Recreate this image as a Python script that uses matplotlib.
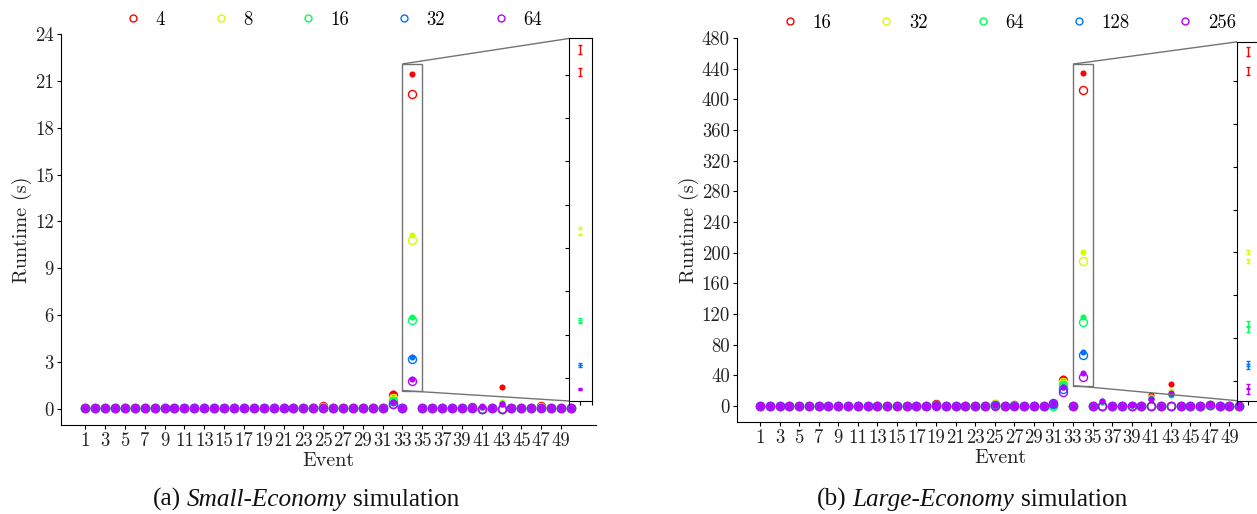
import numpy as np
import matplotlib
matplotlib.use('Agg')
import matplotlib.pyplot as plt
from matplotlib.lines import Line2D
from mpl_toolkits.axes_grid1.inset_locator import mark_inset

plt.rcParams['font.family'] = 'cmr10'
plt.rcParams['axes.unicode_minus'] = False
plt.rcParams['axes.formatter.use_mathtext'] = True

events = list(range(1, 51))

# ---- Small-Economy (a): runtime per event, open = mean, filled = second run
small_labels = ['4', '8', '16', '32', '64']
small_open = [
    [0.02, 0.02, 0.02, 0.02, 0.02, 0.02, 0.02, 0.02, 0.05, 0.02,
     0.02, 0.02, 0.02, 0.02, 0.02, 0.02, 0.02, 0.02, 0.04, 0.05,
     0.02, 0.02, 0.02, 0.02, 0.20, 0.02, 0.02, 0.02, 0.02, 0.02,
     0.02, 0.90, 0.02, 20.17, 0.02, 0.03, 0.02, 0.02, 0.03, 0.08,
     0.00, 0.02, 0.00, 0.02, 0.02, 0.02, 0.15, 0.02, 0.02, 0.02],
    [0.02, 0.02, 0.02, 0.02, 0.02, 0.02, 0.02, 0.02, 0.02, 0.02,
     0.02, 0.02, 0.02, 0.02, 0.02, 0.02, 0.02, 0.02, 0.03, 0.02,
     0.02, 0.02, 0.02, 0.02, 0.12, 0.02, 0.02, 0.02, 0.02, 0.02,
     0.02, 0.65, 0.02, 10.78, 0.02, 0.03, 0.02, 0.02, 0.02, 0.03,
     0.00, 0.02, 0.00, 0.02, 0.02, 0.02, 0.08, 0.02, 0.02, 0.02],
    [0.02, 0.02, 0.02, 0.02, 0.02, 0.02, 0.02, 0.02, 0.02, 0.02,
     0.02, 0.02, 0.02, 0.02, 0.02, 0.02, 0.02, 0.02, 0.02, 0.02,
     0.02, 0.02, 0.02, 0.02, 0.06, 0.02, 0.02, 0.02, 0.02, 0.02,
     0.02, 0.50, 0.02, 5.70, 0.02, 0.02, 0.02, 0.02, 0.02, 0.02,
     0.00, 0.02, 0.00, 0.02, 0.02, 0.02, 0.05, 0.02, 0.02, 0.02],
    [0.02, 0.02, 0.02, 0.02, 0.02, 0.02, 0.02, 0.02, 0.02, 0.02,
     0.02, 0.02, 0.02, 0.02, 0.02, 0.02, 0.02, 0.02, 0.02, 0.02,
     0.02, 0.02, 0.02, 0.02, 0.03, 0.02, 0.02, 0.02, 0.02, 0.02,
     0.02, 0.30, 0.02, 3.18, 0.02, 0.02, 0.02, 0.02, 0.02, 0.02,
     0.00, 0.02, 0.00, 0.02, 0.02, 0.02, 0.03, 0.02, 0.02, 0.02],
    [0.02, 0.02, 0.02, 0.02, 0.02, 0.02, 0.02, 0.02, 0.02, 0.02,
     0.02, 0.02, 0.02, 0.02, 0.02, 0.02, 0.02, 0.02, 0.02, 0.02,
     0.02, 0.02, 0.02, 0.02, 0.02, 0.02, 0.02, 0.02, 0.02, 0.02,
     0.02, 0.28, 0.02, 1.80, 0.02, 0.02, 0.02, 0.02, 0.02, 0.02,
     0.00, 0.02, 0.00, 0.02, 0.02, 0.02, 0.02, 0.02, 0.02, 0.02],
]
small_filled = [
    [0.02, 0.02, 0.02, 0.02, 0.02, 0.02, 0.02, 0.02, 0.10, 0.02,
     0.02, 0.02, 0.02, 0.02, 0.02, 0.02, 0.02, 0.02, 0.05, 0.06,
     0.02, 0.02, 0.02, 0.02, 0.15, 0.02, 0.02, 0.02, 0.02, 0.02,
     0.02, 1.00, 0.02, 21.46, 0.02, 0.03, 0.02, 0.02, 0.04, 0.10,
     0.12, 0.02, 1.37, 0.02, 0.02, 0.02, 0.20, 0.02, 0.02, 0.02],
    [0.02, 0.02, 0.02, 0.02, 0.02, 0.02, 0.02, 0.02, 0.02, 0.02,
     0.02, 0.02, 0.02, 0.02, 0.02, 0.02, 0.02, 0.02, 0.03, 0.02,
     0.02, 0.02, 0.02, 0.02, 0.10, 0.02, 0.02, 0.02, 0.02, 0.02,
     0.02, 0.70, 0.02, 11.13, 0.02, 0.06, 0.02, 0.02, 0.02, 0.03,
     0.10, 0.02, 0.45, 0.02, 0.02, 0.02, 0.08, 0.02, 0.02, 0.02],
    [0.02, 0.02, 0.02, 0.02, 0.02, 0.02, 0.02, 0.02, 0.02, 0.02,
     0.02, 0.02, 0.02, 0.02, 0.02, 0.02, 0.02, 0.02, 0.02, 0.02,
     0.02, 0.02, 0.02, 0.02, 0.05, 0.02, 0.02, 0.02, 0.02, 0.02,
     0.02, 0.55, 0.02, 5.88, 0.02, 0.03, 0.02, 0.02, 0.02, 0.02,
     0.10, 0.02, 0.35, 0.02, 0.02, 0.02, 0.05, 0.02, 0.02, 0.02],
    [0.02, 0.02, 0.02, 0.02, 0.02, 0.02, 0.02, 0.02, 0.02, 0.02,
     0.02, 0.02, 0.02, 0.02, 0.02, 0.02, 0.02, 0.02, 0.02, 0.02,
     0.02, 0.02, 0.02, 0.02, 0.03, 0.02, 0.02, 0.02, 0.02, 0.02,
     0.02, 0.38, 0.02, 3.30, 0.02, 0.02, 0.02, 0.02, 0.02, 0.02,
     0.12, 0.02, 0.30, 0.02, 0.02, 0.02, 0.03, 0.02, 0.02, 0.02],
    [0.02, 0.02, 0.02, 0.02, 0.02, 0.02, 0.02, 0.02, 0.02, 0.02,
     0.02, 0.02, 0.02, 0.02, 0.02, 0.02, 0.02, 0.02, 0.02, 0.02,
     0.02, 0.02, 0.02, 0.02, 0.02, 0.02, 0.02, 0.02, 0.02, 0.02,
     0.02, 0.42, 0.02, 1.91, 0.02, 0.02, 0.02, 0.02, 0.02, 0.02,
     0.17, 0.02, 0.30, 0.02, 0.02, 0.02, 0.02, 0.02, 0.02, 0.02],
]
# std dev at the zoomed event (open, filled)
small_err = [[0.23, 0.25], [0.05, 0.06], [0.05, 0.05], [0.04, 0.04], [0.03, 0.03]]

# ---- Large-Economy (b)
large_labels = ['16', '32', '64', '128', '256']
large_open = [
    [0.3, 0.3, 0.3, 0.3, 0.3, 0.3, 0.3, 0.3, 0.3, 0.3,
     0.3, 0.3, 0.3, 0.3, 0.3, 0.3, 0.3, 0.3, 2.5, 0.3,
     0.3, 0.3, 0.3, 0.3, 3.0, 0.3, 1.0, 0.3, 0.3, 0.3,
     1.0, 34.0, 0.3, 411.7, 0.3, 0.0, 0.3, 0.3, 0.3, 0.3,
     0.0, 0.3, 0.0, 0.3, 0.3, 0.3, 1.5, 0.3, 0.3, 0.3],
    [0.3, 0.3, 0.3, 0.3, 0.3, 0.3, 0.3, 0.3, 0.3, 0.3,
     0.3, 0.3, 0.3, 0.3, 0.3, 0.3, 0.3, 0.3, 1.5, 0.3,
     0.3, 0.3, 0.3, 0.3, 2.0, 0.3, 0.8, 0.3, 0.3, 0.3,
     0.8, 31.0, 0.3, 189.6, 0.3, 0.0, 0.3, 0.3, 0.3, 0.3,
     0.0, 0.3, 0.0, 0.3, 0.3, 0.3, 1.2, 0.3, 0.3, 0.3],
    [0.3, 0.3, 0.3, 0.3, 0.3, 0.3, 0.3, 0.3, 0.3, 0.3,
     0.3, 0.3, 0.3, 0.3, 0.3, 0.3, 0.3, 0.3, 1.0, 0.3,
     0.3, 0.3, 0.3, 0.3, 1.2, 0.3, 0.6, 0.3, 0.3, 0.3,
     0.5, 27.5, 0.3, 110.0, 0.3, 0.0, 0.3, 0.3, 0.3, 0.3,
     0.0, 0.3, 0.0, 0.3, 0.3, 0.3, 1.0, 0.3, 0.3, 0.3],
    [0.3, 0.3, 0.3, 0.3, 0.3, 0.3, 0.3, 0.3, 0.3, 0.3,
     0.3, 0.3, 0.3, 0.3, 0.3, 0.3, 0.3, 0.3, 0.6, 0.3,
     0.3, 0.3, 0.3, 0.3, 0.8, 0.3, 0.4, 0.3, 0.3, 0.3,
     2.5, 22.0, 0.3, 66.5, 0.3, 0.0, 0.3, 0.3, 0.3, 0.3,
     0.0, 0.3, 0.0, 0.3, 0.3, 0.3, 0.8, 0.3, 0.3, 0.3],
    [0.3, 0.3, 0.3, 0.3, 0.3, 0.3, 0.3, 0.3, 0.3, 0.3,
     0.3, 0.3, 0.3, 0.3, 0.3, 0.3, 0.3, 0.3, 0.4, 0.3,
     0.3, 0.3, 0.3, 0.3, 0.5, 0.3, 0.3, 0.3, 0.3, 0.3,
     3.5, 18.7, 0.3, 37.8, 0.3, 0.0, 0.3, 0.3, 0.3, 0.3,
     0.0, 0.3, 0.0, 0.3, 0.3, 0.3, 0.6, 0.3, 0.3, 0.3],
]
large_filled = [
    [0.3, 0.3, 0.3, 0.3, 0.3, 0.3, 0.3, 0.3, 0.3, 0.3,
     0.3, 0.3, 0.3, 0.3, 0.3, 0.3, 0.3, 0.3, 3.0, 0.3,
     0.3, 0.3, 0.3, 0.3, 3.5, 0.3, 1.2, 0.3, 0.3, 0.3,
     1.5, 37.0, 0.3, 434.8, 0.3, 5.5, 0.3, 0.3, 1.5, 0.3,
     14.0, 0.3, 28.3, 0.3, 0.3, 0.3, 2.0, 0.3, 0.3, 0.3],
    [0.3, 0.3, 0.3, 0.3, 0.3, 0.3, 0.3, 0.3, 0.3, 0.3,
     0.3, 0.3, 0.3, 0.3, 0.3, 0.3, 0.3, 0.3, 2.0, 0.3,
     0.3, 0.3, 0.3, 0.3, 2.5, 0.3, 1.0, 0.3, 0.3, 0.3,
     1.2, 31.7, 0.3, 200.4, 0.3, 5.5, 0.3, 0.3, 1.5, 0.3,
     12.0, 0.3, 20.0, 0.3, 0.3, 0.3, 1.8, 0.3, 0.3, 0.3],
    [0.3, 0.3, 0.3, 0.3, 0.3, 0.3, 0.3, 0.3, 0.3, 0.3,
     0.3, 0.3, 0.3, 0.3, 0.3, 0.3, 0.3, 0.3, 1.2, 0.3,
     0.3, 0.3, 0.3, 0.3, 1.5, 0.3, 0.8, 0.3, 0.3, 0.3,
     2.0, 28.2, 0.3, 116.5, 0.3, 5.5, 0.3, 0.3, 1.5, 0.3,
     10.0, 0.3, 14.3, 0.3, 0.3, 0.3, 1.5, 0.3, 0.3, 0.3],
    [0.3, 0.3, 0.3, 0.3, 0.3, 0.3, 0.3, 0.3, 0.3, 0.3,
     0.3, 0.3, 0.3, 0.3, 0.3, 0.3, 0.3, 0.3, 0.8, 0.3,
     0.3, 0.3, 0.3, 0.3, 1.0, 0.3, 0.5, 0.3, 0.3, 0.3,
     3.0, 25.0, 0.3, 70.0, 0.3, 5.8, 0.3, 0.3, 1.6, 0.3,
     9.0, 0.3, 16.0, 0.3, 0.3, 0.3, 1.8, 0.3, 0.3, 0.3],
    [0.3, 0.3, 0.3, 0.3, 0.3, 0.3, 0.3, 0.3, 0.3, 0.3,
     0.3, 0.3, 0.3, 0.3, 0.3, 0.3, 0.3, 0.3, 0.5, 0.3,
     0.3, 0.3, 0.3, 0.3, 0.6, 0.3, 0.4, 0.3, 0.3, 0.3,
     3.8, 25.0, 0.3, 43.5, 0.3, 6.0, 0.3, 0.3, 1.8, 0.3,
     8.7, 0.3, 17.4, 0.3, 0.3, 0.3, 2.0, 0.3, 0.3, 0.3],
]
large_err = [[5.0, 5.0], [2.0, 2.0], [3.0, 3.0], [3.0, 3.0], [3.0, 3.0]]

zoom_event = 34
colors = plt.cm.hsv(np.linspace(0, 0.8, 5))

W, H = 1257, 514
fig = plt.figure(figsize=(W / 100, H / 100), dpi=100)


def px_axes(left, top, right, bottom):
    return fig.add_axes([left / W, 1 - bottom / H, (right - left) / W, (bottom - top) / H])


def draw_panel(ax, labels, opens, fills, errs, xlim, ylim, yticks,
               inset_box, inset_ylim, inset_yticks, legend_xy, ylabelpad):
    for c, o, f in zip(colors, opens, fills):
        ax.plot(events, o, 'o', ls='none', mfc='none', mec=c, mew=1.0, ms=5.8)
        ax.plot(events, f, 'o', ls='none', color=c, mew=0, ms=4.4)
    ax.set_xlim(*xlim)
    ax.set_ylim(*ylim)
    ax.set_xticks(events[::2], [str(e) for e in events[::2]])
    ax.set_yticks(yticks, [str(t) for t in yticks])
    ax.tick_params(labelsize=13.5, length=3, width=0.8, pad=2, labelcolor='#222222')
    for s in ('top', 'right'):
        ax.spines[s].set_visible(False)
    ax.set_xlabel('Event', fontsize=14.5, labelpad=1.5, color='#222222')
    ax.set_ylabel('Runtime (s)', fontsize=14.5, labelpad=ylabelpad, color='#222222')

    handles = [Line2D([], [], marker='o', ls='none', mfc='none', mec=c, mew=1.0, ms=5)
               for c in colors]
    ax.legend(handles, labels, loc='center left', ncol=5, frameon=False,
              bbox_to_anchor=(legend_xy[0] / W, 1 - legend_xy[1] / H),
              bbox_transform=fig.transFigure, fontsize=13.5, handlelength=1.0,
              handletextpad=0.7, columnspacing=2.45, borderpad=0, borderaxespad=0)

    # zoomed view of the outlier event
    axins = ax.inset_axes(inset_box)
    i = events.index(zoom_event)
    for c, o, f, e in zip(colors, opens, fills, errs):
        axins.errorbar([zoom_event, zoom_event], [o[i], f[i]], yerr=e, fmt='none',
                       ecolor=c, elinewidth=1.0, capsize=1.6, capthick=1.0)
    axins.set_xlim(zoom_event - 1, zoom_event + 1)
    axins.set_ylim(*inset_ylim)
    axins.set_xticks([zoom_event - 1, zoom_event, zoom_event + 1])
    axins.set_yticks(inset_yticks)
    axins.tick_params(labelleft=False, labelbottom=False, length=3, width=0.8)
    mark_inset(ax, axins, loc1=2, loc2=3, fc='none', ec='0.45', lw=1.0)


ax_a = px_axes(60.7, 34.3, 596, 425)
draw_panel(ax_a, small_labels, small_open, small_filled, small_err,
           (-1.48, 52.53), (-1.05, 24), list(range(0, 25, 3)),
           [0.950, 0.0614, 0.0418, 0.928], (1.16, 22.1),
           [2.5, 5, 7.5, 10, 12.5, 15, 17.5, 20], (124, 20), 2)

ax_b = px_axes(736.7, 38, 1264, 422)
draw_panel(ax_b, large_labels, large_open, large_filled, large_err,
           (-1.38, 52.53), (-21, 480), list(range(0, 481, 40)),
           [0.949, 0.0555, 0.0418, 0.9345], (26.5, 446),
           list(range(50, 401, 50)), (780.5, 23), 1.5)


def caption(cx, y, parts, size=18.2):
    r = fig.canvas.get_renderer()
    fam = 'Liberation Serif'
    sp = fig.text(0, 0, 'a a', fontsize=size, family=fam)
    nsp = fig.text(0, 0, 'aa', fontsize=size, family=fam)
    space = sp.get_window_extent(r).width - nsp.get_window_extent(r).width
    sp.remove()
    nsp.remove()
    texts = [fig.text(0, 1 - y / H, s, fontsize=size, family=fam, fontstyle=st,
                      va='baseline', color='#111111') for s, st in parts]
    widths = [t.get_window_extent(r).width for t in texts]
    total = sum(widths) + space * (len(texts) - 1)
    x = cx - total / 2
    for t, w in zip(texts, widths):
        t.set_x(x / W)
        x += w + space


caption(306, 506, [('(a)', 'normal'), ('Small-Economy', 'italic'), ('simulation', 'normal')])
caption(972, 506, [('(b)', 'normal'), ('Large-Economy', 'italic'), ('simulation', 'normal')])

fig.savefig('out.png', dpi=100)
